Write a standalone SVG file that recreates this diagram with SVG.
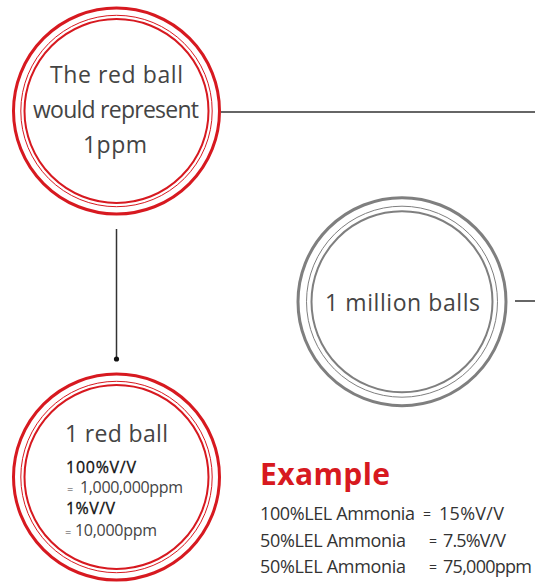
<svg xmlns="http://www.w3.org/2000/svg" width="535" height="583" viewBox="0 0 535 583">
<style>
.ro{fill:none;stroke:#d71920;stroke-width:3}
.rt{fill:none;stroke:#d71920;stroke-width:1}
.ri{fill:none;stroke:#d71920;stroke-width:2}
.go{fill:none;stroke:#7f7f7f;stroke-width:3}
.gt{fill:none;stroke:#7f7f7f;stroke-width:1}
.gi{fill:none;stroke:#7f7f7f;stroke-width:2}
.t{font-family:"Open Sans","Noto Sans",sans-serif;fill:#444;font-size:23px}
.s{font-family:"Open Sans","Noto Sans",sans-serif;fill:#111;font-size:16px;stroke:#111;stroke-width:0.3}
.l{font-family:"Open Sans","Noto Sans",sans-serif;fill:#444;font-size:16px}
.q{font-family:"Open Sans","Noto Sans",sans-serif;fill:#444;font-size:11px}
.e{font-family:"Open Sans","Noto Sans",sans-serif;fill:#333;font-size:18px}
.eq{font-family:"Open Sans","Noto Sans",sans-serif;fill:#333;font-size:14px}
.c{stroke:#333;stroke-width:1.5;fill:none}
</style>
<g id="connectors">
<line class="c" x1="221" y1="112" x2="535" y2="112"/>
<line class="c" x1="116.5" y1="229" x2="116.5" y2="359"/>
<circle cx="116.5" cy="359" r="2.6" fill="#111"/>
<line class="c" x1="515" y1="301" x2="535" y2="301"/>
</g>
<g id="node-top">
<circle class="ro" cx="116.5" cy="111" r="103"/>
<circle class="rt" cx="116.5" cy="111" r="95.7"/>
<circle class="ri" cx="116.5" cy="111" r="92"/>
<text class="t" x="50" y="83" textLength="133" lengthAdjust="spacing">The red ball</text>
<text class="t" x="33" y="118" textLength="166" lengthAdjust="spacing">would represent</text>
<text class="t" x="83" y="153" textLength="64" lengthAdjust="spacing">1ppm</text>
</g>
<g id="node-million">
<circle class="go" cx="402" cy="301.7" r="104"/>
<circle class="gt" cx="402" cy="301.7" r="95.5"/>
<circle class="gi" cx="402" cy="301.7" r="90.5"/>
<text class="t" x="325" y="311" textLength="155" lengthAdjust="spacing">1 million balls</text>
</g>
<g id="node-bottom">
<circle class="ro" cx="116.5" cy="477" r="103"/>
<circle class="rt" cx="116.5" cy="477" r="95.7"/>
<circle class="ri" cx="116.5" cy="477" r="92"/>
<text class="t" x="65" y="442" textLength="103" lengthAdjust="spacing">1 red ball</text>
<text class="s" x="66" y="473" textLength="70" lengthAdjust="spacing">100%V/V</text>
<text class="q" x="67" y="493">=</text>
<text class="l" x="80" y="493" textLength="103" lengthAdjust="spacing">1,000,000ppm</text>
<text class="s" x="66" y="514" textLength="49" lengthAdjust="spacing">1%V/V</text>
<text class="q" x="65" y="536">=</text>
<text class="l" x="75" y="536" textLength="82" lengthAdjust="spacing">10,000ppm</text>
</g>
<g id="example">
<text x="260" y="485" font-family="Open Sans,Noto Sans,sans-serif" font-weight="bold" font-size="30" fill="#d71920" textLength="130" lengthAdjust="spacing">Example</text>
<text class="e" x="260" y="520" textLength="155" lengthAdjust="spacing">100%LEL Ammonia</text>
<text class="eq" x="423" y="519">=</text>
<text class="e" x="439" y="520" textLength="65" lengthAdjust="spacing">15%V/V</text>
<text class="e" x="260" y="547" textLength="146" lengthAdjust="spacing">50%LEL Ammonia</text>
<text class="eq" x="429" y="546">=</text>
<text class="e" x="443" y="547" textLength="63" lengthAdjust="spacing">7.5%V/V</text>
<text class="e" x="260" y="573" textLength="146" lengthAdjust="spacing">50%LEL Ammonia</text>
<text class="eq" x="429" y="572">=</text>
<text class="e" x="443" y="573" textLength="89" lengthAdjust="spacing">75,000ppm</text>
</g>
</svg>
